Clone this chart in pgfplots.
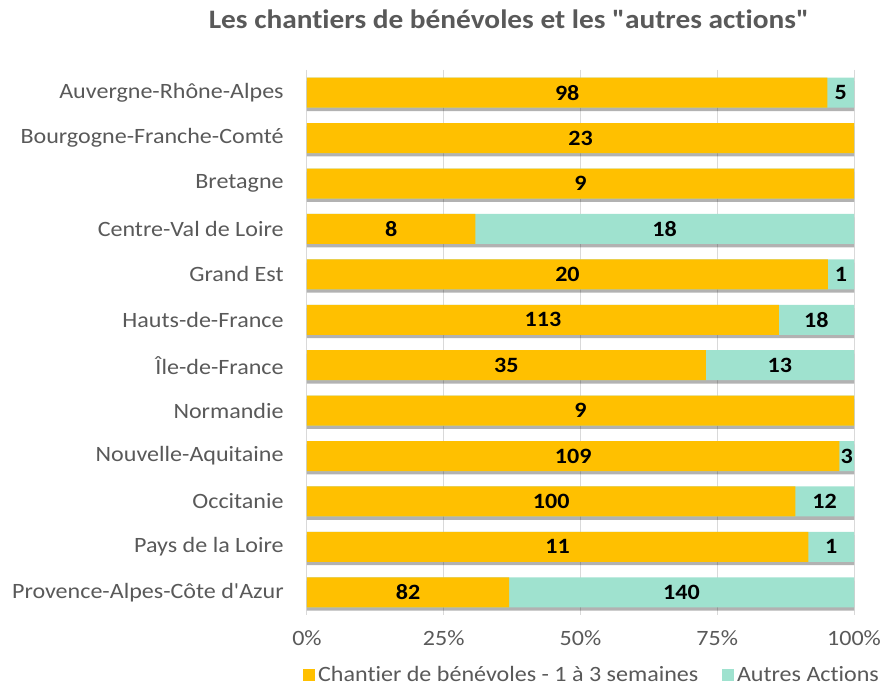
\documentclass[border=0pt]{standalone}
\usepackage{fontspec}
\setmainfont{Carlito}[FakeStretch=1.1, Ligatures={TeXOff,CommonOff}]
\usepackage{pgfplots}
\pgfplotsset{compat=1.18}
\usetikzlibrary{shadows}
\definecolor{orangebar}{HTML}{FFC000}
\definecolor{tealbar}{HTML}{9FE2CF}
\definecolor{txtgray}{HTML}{595959}
\definecolor{gridgray}{HTML}{D9D9D9}
\newcommand{\lblfont}{\fontsize{16.4}{19}\selectfont}

\begin{document}
\begin{tikzpicture}[x=1pt,y=1pt]
\path[use as bounding box] (-230.25,-57) rectangle (438.75,461.25);
\begin{axis}[
  at={(0,0)}, anchor=south west,
  scale only axis, width=410.25pt, height=408.75pt,
  xbar, bar width=22.5pt, bar shift=0pt,
  xmin=0, xmax=100, ymin=-0.5, ymax=11.5, y dir=reverse,
  axis line style={draw=none},
  major tick length=0pt,
  xmajorgrids, grid style={gridgray, line width=0.75pt},
  xtick={0,25,50,75,100},
  xticklabels={0\%,25\%,50\%,75\%,100\%},
  ytick={0,...,11},
  yticklabels={Auvergne-Rhône-Alpes,Bourgogne-Franche-Comté,Bretagne,Centre-Val de Loire,Grand Est,Hauts-de-France,Île-de-France,Normandie,Nouvelle-Aquitaine,Occitanie,Pays de la Loire,Provence-Alpes-Côte d'Azur},
  tick label style={font=\lblfont, text=txtgray},
  yticklabel style={xshift=-14pt},
  xticklabel style={yshift=-8pt},
  title={Les chantiers de bénévoles et les "autres actions"},
  title style={at={(0.369,1.079)}, anchor=center, font=\fontsize{20}{24}\selectfont\bfseries, text=txtgray},
  legend columns=2,
  legend style={at={(0.522,-0.11)}, anchor=center, draw=none, font=\lblfont, text=txtgray,
    /tikz/every even column/.append style={column sep=16pt}},
  legend image code/.code={\fill[#1] (0pt,-4.5pt) rectangle (9pt,4.5pt);},
]
\addlegendimage{fill=orangebar, draw=none}
\addlegendentry{Chantier de bénévoles - 1 à 3 semaines}
\addlegendimage{fill=tealbar, draw=none}
\addlegendentry{Autres Actions}

% total (autres actions segment shows where orange stops)
\addplot[forget plot, fill=tealbar, draw=none,
  drop shadow={shadow xshift=0pt, shadow yshift=-2.5pt, fill=black, opacity=0.3}]
  coordinates {(100,0) (100,1) (100,2) (100,3) (100,4) (100,5) (100,6) (100,7) (100,8) (100,9) (100,10) (100,11)};
% chantiers share in %
\addplot[forget plot, fill=orangebar, draw=none]
  coordinates {(95.15,0) (100,1) (100,2) (30.77,3) (95.24,4) (86.26,5) (72.92,6) (100,7) (97.32,8) (89.29,9) (91.67,10) (36.94,11)};
% counts, centred in their segments
\addplot[forget plot, draw=none, fill=none, nodes near coords, point meta=explicit symbolic,
  every node near coord/.append style={anchor=center, font=\lblfont\bfseries, text=black}]
  coordinates {
    (47.57,0) [98] (97.57,0) [5]
    (50,1) [23]
    (50,2) [9]
    (15.38,3) [8] (65.38,3) [18]
    (47.62,4) [20] (97.62,4) [1]
    (43.13,5) [113] (93.13,5) [18]
    (36.46,6) [35] (86.46,6) [13]
    (50,7) [9]
    (48.66,8) [109] (98.66,8) [3]
    (44.64,9) [100] (94.64,9) [12]
    (45.83,10) [11] (95.83,10) [1]
    (18.47,11) [82] (68.47,11) [140]
  };
\end{axis}
\end{tikzpicture}
\end{document}
